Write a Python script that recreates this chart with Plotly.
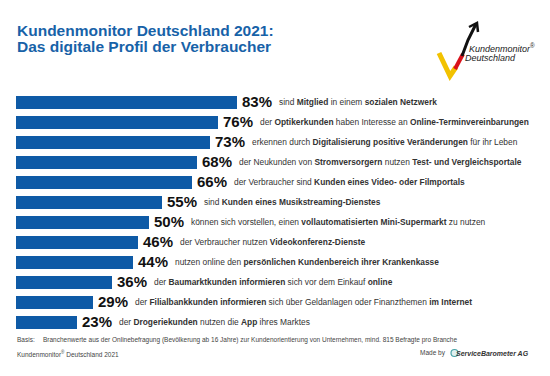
import plotly.graph_objects as go

# ---- data ----
shares = [83, 76, 73, 68, 66, 55, 50, 46, 44, 36, 29, 23]
descriptions = [
    "sind <b>Mitglied</b> in einem <b>sozialen Netzwerk</b>",
    "der <b>Optikerkunden</b> haben Interesse an <b>Online-Terminvereinbarungen</b>",
    "erkennen durch <b>Digitalisierung positive Veränderungen</b> für ihr Leben",
    "der Neukunden von <b>Stromversorgern</b> nutzen <b>Test- und Vergleichsportale</b>",
    "der Verbraucher sind <b>Kunden eines Video- oder Filmportals</b>",
    "sind <b>Kunden eines Musikstreaming-Dienstes</b>",
    "können sich vorstellen, einen <b>vollautomatisierten Mini-Supermarkt</b> zu nutzen",
    "der Verbraucher nutzen <b>Videokonferenz-Dienste</b>",
    "nutzen online den <b>persönlichen Kundenbereich ihrer Krankenkasse</b>",
    "der <b>Baumarktkunden informieren</b> sich vor dem Einkauf <b>online</b>",
    "der <b>Filialbankkunden informieren</b> sich über Geldanlagen oder Finanzthemen <b>im Internet</b>",
    "der <b>Drogeriekunden</b> nutzen die <b>App</b> ihres Marktes",
]
value_labels = [f"{v}%" for v in shares]

title_lines = ["Kundenmonitor Deutschland 2021:", "Das digitale Profil der Verbraucher"]
basis_label = "Basis:"
basis_text = ("Branchenwerte aus der Onlinebefragung (Bevölkerung ab 16 Jahre) zur "
              "Kundenorientierung von Unternehmen, mind. 815 Befragte pro Branche")
source_text = "Kundenmonitor<sup>®</sup> Deutschland 2021"

# ---- layout helpers ----
W, H = 550, 376
FONT = "Liberation Sans, Arial, sans-serif"
BAR = "#0e5aa6"
BLUE = "#1762a8"


def px(x):
    return x / W


def py(y):
    return 1 - y / H


def path(points):
    return "M " + " L ".join(f"{px(x):.5f},{py(y):.5f}" for x, y in points)


fig = go.Figure(go.Bar(
    x=shares, y=descriptions, orientation="h",
    marker=dict(color=BAR, line=dict(width=0)),
    width=0.65, hoverinfo="skip",
))

annotations = []
for v, lab, d in zip(shares, value_labels, descriptions):
    annotations.append(dict(x=v, y=d, xref="x", yref="y", text=f"<b>{lab}</b>",
                            showarrow=False, xanchor="left", yanchor="middle", xshift=3, yshift=0,
                            font=dict(family=FONT, size=15, color="#111")))
    annotations.append(dict(x=v, y=d, xref="x", yref="y", text=d,
                            showarrow=False, xanchor="left", yanchor="middle", xshift=40, yshift=0,
                            font=dict(family=FONT, size=8.4, color="#333")))

# title
annotations.append(dict(x=px(15), y=py(31), xref="paper", yref="paper", text=f"<b>{title_lines[0]}</b>",
                        showarrow=False, xanchor="left", yanchor="middle",
                        font=dict(family=FONT, size=15.5, color=BLUE)))
annotations.append(dict(x=px(15), y=py(46), xref="paper", yref="paper", text=f"<b>{title_lines[1]}</b>",
                        showarrow=False, xanchor="left", yanchor="middle",
                        font=dict(family=FONT, size=15.5, color=BLUE)))

# logo text
annotations.append(dict(x=px(467), y=py(48), xref="paper", yref="paper",
                        text="<i>Kundenmonitor</i><sup>®</sup>",
                        showarrow=False, xanchor="left", yanchor="middle",
                        font=dict(family=FONT, size=9, color="#222")))
annotations.append(dict(x=px(463), y=py(58), xref="paper", yref="paper",
                        text="<i>Deutschland</i>",
                        showarrow=False, xanchor="left", yanchor="middle",
                        font=dict(family=FONT, size=9, color="#222")))

# footer
annotations.append(dict(x=px(15), y=py(339.5), xref="paper", yref="paper", text=basis_label,
                        showarrow=False, xanchor="left", yanchor="middle",
                        font=dict(family=FONT, size=6.5, color="#444")))
annotations.append(dict(x=px(41), y=py(339.5), xref="paper", yref="paper", text=basis_text,
                        showarrow=False, xanchor="left", yanchor="middle",
                        font=dict(family=FONT, size=6.5, color="#444")))
annotations.append(dict(x=px(15), y=py(353), xref="paper", yref="paper", text=source_text,
                        showarrow=False, xanchor="left", yanchor="middle",
                        font=dict(family=FONT, size=6.5, color="#444")))
annotations.append(dict(x=px(531), y=py(353), xref="paper", yref="paper",
                        text="<b><i>ServiceBarometer AG</i></b>",
                        showarrow=False, xanchor="right", yanchor="middle",
                        font=dict(family=FONT, size=7, color="#333")))
annotations.append(dict(x=px(448), y=py(353), xref="paper", yref="paper", text="Made by",
                        showarrow=False, xanchor="right", yanchor="middle",
                        font=dict(family=FONT, size=6.5, color="#444")))

shapes = [
    # logo check mark
    dict(type="path", xref="paper", yref="paper", path=path([(439, 53), (450, 76), (456, 67)]),
         line=dict(color="#f2c200", width=5)),
    dict(type="path", xref="paper", yref="paper", path=path([(455, 69), (463, 54)]),
         line=dict(color="#d9121b", width=4)),
    dict(type="path", xref="paper", yref="paper", path=path([(462, 56), (468, 40), (476, 24)]),
         line=dict(color="#111", width=3)),
    dict(type="path", xref="paper", yref="paper", path=path([(469, 27), (477, 23), (478, 32)]),
         line=dict(color="#111", width=2.5)),
    # ServiceBarometer icon
    dict(type="circle", xref="paper", yref="paper",
         x0=px(451), x1=px(458), y0=py(356.5), y1=py(349.5),
         line=dict(color="#4aa3a8", width=1.2), fillcolor="#dff0f0"),
]

fig.update_layout(
    width=W, height=H,
    margin=dict(l=0, r=0, t=0, b=0),
    paper_bgcolor="white", plot_bgcolor="white",
    showlegend=False,
    bargap=0,
    xaxis=dict(domain=[px(16), px(282)], range=[0, 100], visible=False, fixedrange=True),
    yaxis=dict(domain=[py(331.8), py(91.8)], categoryorder="array", categoryarray=descriptions,
               range=[11.5, -0.5], visible=False, fixedrange=True),
    annotations=annotations,
    shapes=shapes,
    font=dict(family=FONT),
)

fig.write_html("out.html", config={"displayModeBar": False},
               post_script="document.body.style.margin='0';document.body.style.overflow='hidden';")
